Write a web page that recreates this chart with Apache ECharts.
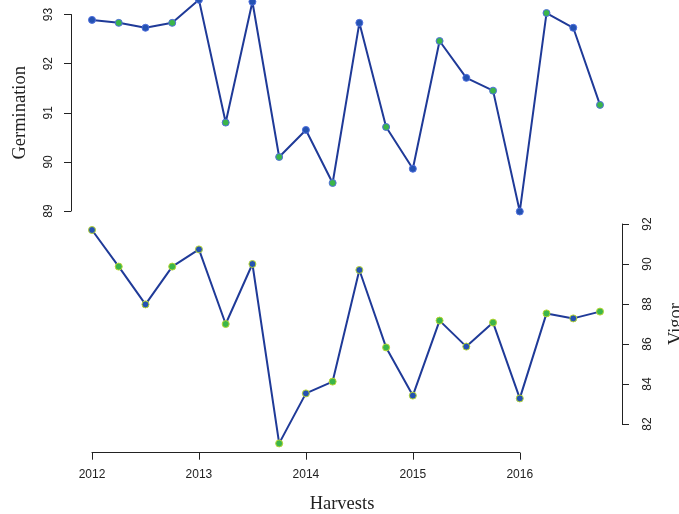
<!DOCTYPE html>
<html>
<head>
<meta charset="utf-8">
<script src="https://cdn.jsdelivr.net/npm/echarts@6/dist/echarts.min.js"></script>
<style>
  html, body { margin: 0; padding: 0; background: #fff; }
  #chart { width: 679px; height: 514px; }
</style>
</head>
<body>
<div id="chart"></div>
<script>
// harvests, one point per quarter
const harvests = [
  '2012 Q1', '2012 Q2', '2012 Q3', '2012 Q4',
  '2013 Q1', '2013 Q2', '2013 Q3', '2013 Q4',
  '2014 Q1', '2014 Q2', '2014 Q3', '2014 Q4',
  '2015 Q1', '2015 Q2', '2015 Q3', '2015 Q4',
  '2016 Q1', '2016 Q2', '2016 Q3', '2016 Q4'
];
const germination = [
  92.89, 92.83, 92.73, 92.83, 93.3, 90.8, 93.26, 90.1, 90.65, 89.57,
  92.83, 90.71, 89.86, 92.46, 91.71, 91.45, 88.99, 93.03, 92.73, 91.16
];
const vigor = [
  91.7, 89.87, 87.98, 89.87, 90.73, 87.0, 90.0, 81.03, 83.53, 84.12,
  89.7, 85.83, 83.42, 87.17, 85.87, 87.07, 83.28, 87.53, 87.28, 87.62
];
const yearTicks = [2012, 2013, 2014, 2015, 2016];

const lineColor = '#1f3a98';
const blue = '#2452b2';
const green = '#3bb54a';
const serif = 'Liberation Serif';
const sans = 'Liberation Sans';

const chart = echarts.init(document.getElementById('chart'));

const pointColor = (p) => (p.dataIndex % 2 === 0 ? blue : green);

const seriesBase = {
  type: 'line',
  clip: false,
  symbol: 'circle',
  symbolSize: 7,
  lineStyle: { color: lineColor, width: 2 },
  itemStyle: { color: pointColor, borderColor: pointColor, borderWidth: 1 },
  emphasis: { disabled: true },
  animation: false
};

const axisLineStyle = { lineStyle: { color: '#222', width: 1 } };
const tickStyle = { show: true, length: 7, lineStyle: { color: '#222' } };
const titleStyle = { fontFamily: serif, fontSize: 18.5, color: '#222' };

// plot width 508px for 19 quarter steps; the year axis runs 2012 Q1 -> 2016 Q1
const plotLeft = 92;
const plotWidth = 508;
const yearAxisWidth = plotWidth * 16 / 19;

chart.setOption({
  backgroundColor: '#fff',
  grid: [
    { left: plotLeft, width: plotWidth, top: 14.5, height: 196.5, outerBoundsMode: 'none', containLabel: false },
    { left: plotLeft, width: plotWidth, top: 224, height: 200, outerBoundsMode: 'none', containLabel: false },
    { left: plotLeft, width: yearAxisWidth, top: 400, height: 52.7, outerBoundsMode: 'none', containLabel: false }
  ],
  xAxis: [
    {
      gridIndex: 0, type: 'category', data: harvests, boundaryGap: false,
      show: false
    },
    {
      gridIndex: 1, type: 'category', data: harvests, boundaryGap: false,
      axisLine: { show: false }, axisTick: { show: false }, axisLabel: { show: false },
      splitLine: { show: false },
      name: 'Harvests', nameLocation: 'middle', nameGap: 71,
      nameTextStyle: { ...titleStyle, padding: [0, 8, 0, 0] }
    },
    {
      gridIndex: 2, type: 'value', min: yearTicks[0], max: yearTicks[yearTicks.length - 1],
      interval: 1, position: 'bottom',
      axisLine: axisLineStyle,
      axisTick: tickStyle,
      axisLabel: {
        margin: 16, fontFamily: sans, fontSize: 12, color: '#222',
        formatter: (v) => (yearTicks.includes(v) ? String(v) : '')
      },
      splitLine: { show: false }
    }
  ],
  yAxis: [
    {
      gridIndex: 0, type: 'value', min: 89, max: 93, interval: 1,
      position: 'left', offset: 21,
      axisLine: { show: true, ...axisLineStyle },
      axisTick: tickStyle,
      axisLabel: { rotate: 90, margin: 16, fontFamily: sans, fontSize: 12, color: '#222' },
      splitLine: { show: false },
      name: 'Germination', nameLocation: 'middle', nameGap: 41, nameRotate: 90,
      nameTextStyle: titleStyle
    },
    {
      gridIndex: 1, type: 'value', min: 82, max: 92, interval: 2,
      position: 'right', offset: 22,
      axisLine: { show: true, ...axisLineStyle },
      axisTick: tickStyle,
      axisLabel: { rotate: 90, margin: 20, fontFamily: sans, fontSize: 12, color: '#222' },
      splitLine: { show: false },
      name: 'Vigor', nameLocation: 'middle', nameGap: 45, nameRotate: 90,
      nameTextStyle: titleStyle
    },
    { gridIndex: 2, type: 'value', show: false }
  ],
  series: [
    { ...seriesBase, name: 'Germination', xAxisIndex: 0, yAxisIndex: 0, data: germination },
    { ...seriesBase, name: 'Vigor', xAxisIndex: 1, yAxisIndex: 1, data: vigor }
  ]
});

window.addEventListener('resize', () => chart.resize());
</script>
</body>
</html>
